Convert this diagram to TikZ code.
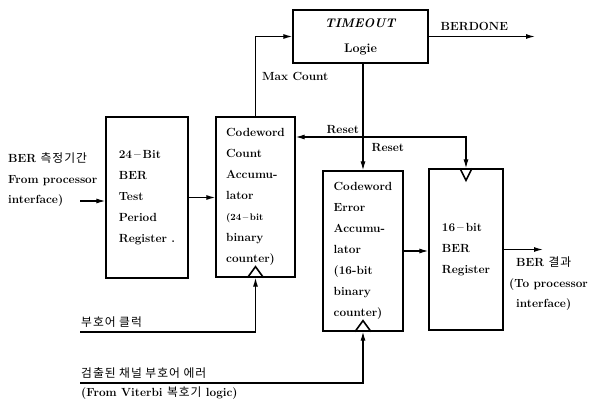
\documentclass[tikz,border=0pt]{standalone}
\usepackage{fontspec}
\newfontfamily\krfont[LetterSpace=8]{Noto Sans CJK KR}
\usepackage{tikz}
\usetikzlibrary{positioning,arrows.meta,calc}
\newcommand{\kr}[1]{{\mdseries\krfont #1}}
\tikzset{
  bt-box/.style={draw,line width=1.3pt,align=left,
    font=\fontsize{11.8}{21}\selectfont\bfseries,inner sep=0pt},
  bt-lbl/.style={font=\fontsize{11.8}{20.5}\selectfont\bfseries,inner sep=1pt},
  bt-arrow/.style={-{Latex[length=9pt,width=5pt]},line width=1.2pt},
  bt-clk/.style={line width=1.6pt,line join=miter},
}

\begin{document}
\begin{tikzpicture}[x=1pt,y=-1pt]
  \useasboundingbox (0,0) rectangle (595,406);

  % blocks
  \node[bt-box,minimum width=82pt,minimum height=161pt] (tpr) at (147,197.5)
    {24\,--\,Bit\\BER\\Test\\Period\\Register .};
  \node[bt-box,minimum width=79pt,minimum height=160pt] (cca) at (255.5,197)
    {Codeword\\Count\\Accumu-\\lator\\{\fontsize{9.5}{12}\selectfont(24\,--\,bit}\\binary\\counter)};
  \node[bt-box,minimum width=135pt,minimum height=53pt,align=center,
    font=\fontsize{12.5}{25}\selectfont\bfseries] (tol) at (360.5,36.5)
    {\textit{TIMEOUT}\\Logie};
  \node[bt-box,minimum width=80pt,minimum height=160pt] (cea) at (363,251)
    {Codeword\\Error\\Accumu-\\lator\\(16-bit\\binary\\counter)};
  \node[bt-box,minimum width=74pt,minimum height=161pt] (bre) at (466,249.5)
    {16\,--\,bit\\BER\\Register};

  % clock marks
  \draw[bt-clk] ([xshift=-8pt]cca.south) -- ([yshift=11pt]cca.south) -- ([xshift=8pt]cca.south);
  \draw[bt-clk] ([xshift=-8pt]cea.south) -- ([yshift=11pt]cea.south) -- ([xshift=8pt]cea.south);
  \draw[bt-clk] ([xshift=-6pt]bre.north) -- ([yshift=-12pt]bre.north) -- ([xshift=6pt]bre.north);

  % free ends
  \coordinate (in) at (80,201);
  \coordinate (clk) at (80,332);
  \coordinate (errin) at (80,383);
  \coordinate (rst) at (363,137);
  \coordinate (out) at (543,249.5);
  \coordinate (done) at (535,36.5);

  % edges
  \draw[bt-arrow] (in) -- (in -| tpr.west);
  \draw[bt-arrow] (tpr.east) -- (tpr.east -| cca.west);
  \draw[bt-arrow] (cca.north) |- node[pos=0.25,right=5pt,bt-lbl]{Max Count} (tol.west);
  \draw[bt-arrow] (tol.east) -- node[pos=0.43,above=4pt,bt-lbl]{BERDONE} (done);
  \draw[bt-arrow] (tol.south -| cea.north) -- node[pos=0.79,right=7pt,bt-lbl]{Reset} (cea.north);
  \draw[bt-arrow] (rst) -- node[pos=0.3,above=2pt,bt-lbl]{Reset} (rst -| cca.east);
  \draw[bt-arrow] (rst) -| (bre.north);
  \draw[bt-arrow] (clk) -| (cca.south);
  \draw[bt-arrow] (errin) -| (cea.south);
  \draw[bt-arrow] (cea.east) -- (cea.east -| bre.west);
  \draw[bt-arrow] (bre.east) -- (out);

  % io labels
  \node[bt-lbl,align=left,anchor=west] (inlbl) at (7,180)
    {BER \kr{측정기간}\\From processor\\interface)};
  \node[bt-lbl,align=left,anchor=north west] (outlbl) at (508,256)
    {\hspace*{7pt}BER \kr{결과}\\(To processor\\\hspace*{7pt}interface)};
  \node[bt-lbl,anchor=south west,above right=3pt and 0pt of clk] (clklbl) {\kr{부호어 클럭}};
  \node[bt-lbl,anchor=south west,above right=3pt and 0pt of errin] (errlbl) {\kr{검출된 채널 부호어 에러}};
  \node[bt-lbl,below right=3pt and 0pt of errin] (vitlbl) {(From Viterbi \kr{복호기} logic)};
\end{tikzpicture}
\end{document}
